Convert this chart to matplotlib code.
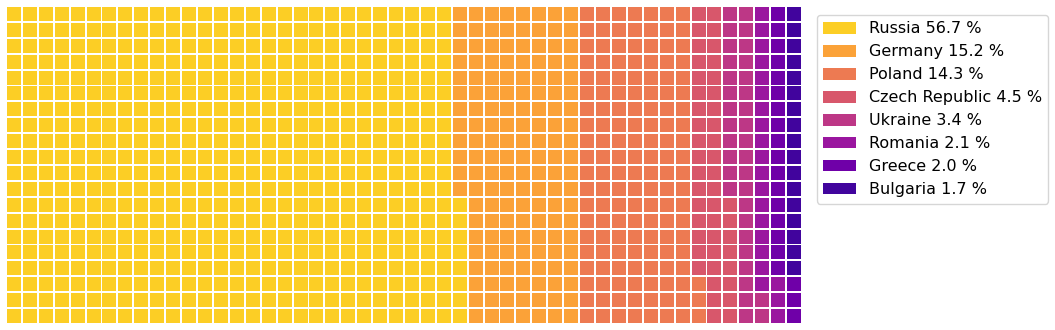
import numpy as np
import matplotlib.pyplot as plt
from matplotlib.patches import Rectangle, Patch

countries = ["Russia", "Germany", "Poland", "Czech Republic", "Ukraine",
             "Romania", "Greece", "Bulgaria"]
shares = [56.7, 15.2, 14.3, 4.5, 3.4, 2.1, 2.0, 1.7]
rows, cols = 20, 50

colors = plt.cm.plasma(np.linspace(0.9, 0.1, len(countries)))

# cells per country, scaled to the grid
total = rows * cols
counts = np.round(np.array(shares) / sum(shares) * total).astype(int)

fig = plt.figure(figsize=(10.55, 3.3), dpi=100)
ax = fig.add_axes([6 / 1055, 6 / 330, 796 / 1055, 318 / 330])

idx = 0
gap = 0.12
for c, n in zip(colors, counts):
    for k in range(n):
        col, row = divmod(idx, rows)
        ax.add_patch(Rectangle((col + gap / 2, row + gap / 2), 1 - gap, 1 - gap,
                               facecolor=c, edgecolor="none"))
        idx += 1

ax.set_xlim(0, cols)
ax.set_ylim(0, rows)
ax.axis("off")

handles = [Patch(facecolor=c, label=f"{name} {v} %")
           for c, name, v in zip(colors, countries, shares)]
fig.legend(handles=handles, loc="upper left", fontsize=11.5,
           handlelength=2.05, handleheight=0.73, labelspacing=0.5,
           bbox_to_anchor=(817 / 1055, 1 - 15 / 330), borderaxespad=0)

fig.savefig("out.png")
